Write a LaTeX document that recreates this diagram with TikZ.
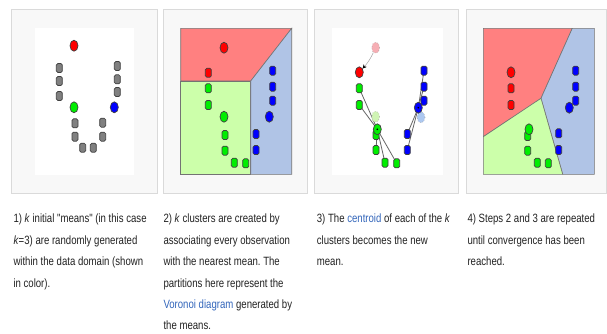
\documentclass[tikz,border=0pt]{standalone}
\usepackage{fontspec}
\newfontfamily\capfont[FakeStretch=0.8,Ligatures=TeXOff]{Liberation Sans}
\usetikzlibrary{shapes.geometric,arrows.meta}
\pgfdeclarelayer{bg}
\pgfdeclarelayer{lines}
\pgfsetlayers{bg,lines,main}
\frenchspacing
\definecolor{panelbg}{HTML}{F8F8F8}
\definecolor{panelborder}{HTML}{DADADA}
\definecolor{regred}{HTML}{FF8080}
\definecolor{reggreen}{HTML}{CCFFAA}
\definecolor{regblue}{HTML}{B0C4E6}
\definecolor{ptred}{HTML}{FF0000}
\definecolor{ptgreen}{HTML}{00EE00}
\definecolor{ptblue}{HTML}{0000FF}
\definecolor{ptgray}{HTML}{808080}
\definecolor{fadered}{HTML}{F6AEB4}
\definecolor{fadegreen}{HTML}{D0F4B4}
\definecolor{fadeblue}{HTML}{ADC8F0}
\definecolor{linkblue}{HTML}{3366BB}
\definecolor{txt}{HTML}{222222}
\newcommand{\wlink}[1]{\textcolor{linkblue}{#1}}
\tikzset{
  panel/.style={draw=panelborder, fill=panelbg, line width=1pt},
  mean/.style={ellipse, draw=black!75, line width=0.7pt, minimum width=8pt, minimum height=11pt, inner sep=0pt},
  obs/.style={rectangle, rounded corners=1.5pt, draw=black!75, line width=0.7pt, minimum width=6pt, minimum height=9pt, inner sep=0pt},
  ghost/.style={ellipse, draw=black!35, dotted, line width=0.6pt, minimum width=8pt, minimum height=11pt, inner sep=0pt},
  region/.style={draw=black!55, line width=0.6pt},
  assign/.style={draw=black!60, line width=0.8pt},
  captxt/.style={anchor=base west, inner sep=0pt, text=txt, font=\capfont\fontsize{12}{14}\selectfont}
}
\begin{document}
\begin{tikzpicture}[x=1pt,y=-1pt]
\useasboundingbox (0,0) rectangle (607,333);
\begin{pgfonlayer}{bg}
  \fill[white] (0,0) rectangle (607,333);
  \draw[panel] (11.5,9) rectangle (157,193);
  \draw[panel] (163,9) rectangle (307,193);
  \draw[panel] (314,9) rectangle (458,193);
  \draw[panel] (466,9) rectangle (606,193);
  \fill[white] (35,28) rectangle (134,175);
  \fill[white] (331.7,28) rectangle (443.3,175);
  % panel 2 regions
  \filldraw[region, fill=regred] (180.7,28.3) -- (291.7,28.3) -- (250.7,81) -- (180.7,81) -- cycle;
  \filldraw[region, fill=reggreen] (180.7,81) -- (250.7,81) -- (250.7,174.3) -- (180.7,174.3) -- cycle;
  \filldraw[region, fill=regblue] (291.7,28.3) -- (291.7,174.3) -- (250.7,174.3) -- (250.7,81) -- cycle;
  % panel 4 regions
  \filldraw[region, fill=regred] (483.3,28.3) -- (572.3,28.3) -- (541,98.3) -- (483.3,136.7) -- cycle;
  \filldraw[region, fill=regblue] (572.3,28.3) -- (594.3,28.3) -- (594.3,174.3) -- (562.7,174.3) -- (541,98.3) -- cycle;
  \filldraw[region, fill=reggreen] (483.3,136.7) -- (541,98.3) -- (562.7,174.3) -- (483.3,174.3) -- cycle;
\end{pgfonlayer}

% ---------- panel 1 ----------
\node[mean, fill=ptred] (a-r) at (74,45.7) {};
\node[obs, fill=ptgray] (a-1) at (59.3,68) {};
\node[obs, fill=ptgray] (a-2) at (59.3,81) {};
\node[obs, fill=ptgray] (a-3) at (59.3,96) {};
\node[obs, fill=ptgray] (a-4) at (117.3,66) {};
\node[obs, fill=ptgray] (a-5) at (117.3,79.3) {};
\node[obs, fill=ptgray] (a-6) at (117.3,92) {};
\node[mean, fill=ptgreen] (a-g) at (74,107.3) {};
\node[mean, fill=ptblue] (a-b) at (114.3,107.3) {};
\node[obs, fill=ptgray] (a-7) at (75,123.3) {};
\node[obs, fill=ptgray] (a-8) at (75,136.7) {};
\node[obs, fill=ptgray] (a-9) at (102.7,122.7) {};
\node[obs, fill=ptgray] (a-10) at (102.7,136.7) {};
\node[obs, fill=ptgray] (a-11) at (82.7,147.7) {};
\node[obs, fill=ptgray] (a-12) at (93.3,147.7) {};

% ---------- panel 2 ----------
\node[mean, fill=ptred] (b-r) at (224,47.7) {};
\node[obs, fill=ptred] (b-1) at (208.3,72.7) {};
\node[obs, fill=ptgreen] (b-2) at (208.3,88.3) {};
\node[obs, fill=ptgreen] (b-3) at (208.3,105) {};
\node[mean, fill=ptgreen] (b-g) at (224,116.7) {};
\node[obs, fill=ptgreen] (b-4) at (225,135) {};
\node[obs, fill=ptgreen] (b-5) at (225,150.7) {};
\node[obs, fill=ptgreen] (b-6) at (234.3,162.7) {};
\node[obs, fill=ptgreen] (b-7) at (245.7,163.3) {};
\node[obs, fill=ptblue] (b-8) at (272.7,70.7) {};
\node[obs, fill=ptblue] (b-9) at (272.7,86.7) {};
\node[obs, fill=ptblue] (b-10) at (272.7,100.7) {};
\node[mean, fill=ptblue] (b-b) at (269.3,116.7) {};
\node[obs, fill=ptblue] (b-11) at (256,134) {};
\node[obs, fill=ptblue] (b-12) at (256,150) {};

% ---------- panel 3 ----------
\node[ghost, fill=fadered] (c-or) at (375.7,47.7) {};
\node[mean, fill=ptred] (c-r) at (359.3,72.3) {};
\node[obs, fill=ptgreen] (c-2) at (359.3,88.3) {};
\node[obs, fill=ptgreen] (c-3) at (359.3,105) {};
\node[ghost, fill=fadegreen] (c-og) at (375.7,116.7) {};
\node[obs, fill=ptgreen] (c-4) at (376,135) {};
\node[obs, fill=ptgreen] (c-5) at (376,150) {};
\node[obs, fill=ptgreen] (c-6) at (385,162.7) {};
\node[obs, fill=ptgreen] (c-7) at (396.7,163.3) {};
\node[mean, fill=ptgreen] (c-g) at (377.3,129.3) {};
\node[obs, fill=ptblue] (c-8) at (424,70.7) {};
\node[obs, fill=ptblue] (c-9) at (424,86.7) {};
\node[obs, fill=ptblue] (c-10) at (424,100.7) {};
\node[ghost, fill=fadeblue] (c-ob) at (421,117.3) {};
\node[mean, fill=ptblue] (c-b) at (418.3,107.7) {};
\node[obs, fill=ptblue] (c-11) at (407.3,134) {};
\node[obs, fill=ptblue] (c-12) at (407.3,150) {};
\fill[black] (c-g.center) circle (0.9pt);
\fill[black] (c-b.center) circle (0.9pt);
\begin{pgfonlayer}{lines}
  \foreach \p in {c-2,c-3,c-4,c-5,c-6,c-7} \draw[assign] (c-g.center) -- (\p.center);
  \foreach \p in {c-8,c-9,c-10,c-11,c-12} \draw[assign] (c-b.center) -- (\p.center);
\end{pgfonlayer}
\draw[black!35, line width=0.5pt, -{Stealth[length=4pt,width=4pt,black]}] (c-or) to[bend left=8] (c-r);

% ---------- panel 4 ----------
\node[mean, fill=ptred] (d-r) at (511,72.3) {};
\node[obs, fill=ptred] (d-2) at (511,88.3) {};
\node[obs, fill=ptred] (d-3) at (511,105) {};
\node[obs, fill=ptgreen] (d-4) at (527.7,136) {};
\node[mean, fill=ptgreen] (d-g) at (529,129.3) {};
\node[obs, fill=ptgreen] (d-5) at (527.7,150.7) {};
\node[obs, fill=ptgreen] (d-6) at (537.3,162.7) {};
\node[obs, fill=ptgreen] (d-7) at (548.3,163.3) {};
\node[obs, fill=ptblue] (d-8) at (575.7,70.7) {};
\node[obs, fill=ptblue] (d-9) at (575.7,86.7) {};
\node[obs, fill=ptblue] (d-10) at (575.7,100.7) {};
\node[mean, fill=ptblue] (d-b) at (569.3,107.7) {};
\node[obs, fill=ptblue] (d-11) at (558.7,133.3) {};
\node[obs, fill=ptblue] (d-12) at (558.7,150) {};

% ---------- captions ----------
\node[captxt] (t1a) at (13.3,222.5) {1) \textit{k} initial "means" (in this case};
\node[captxt] (t1b) at (13.3,244) {\textit{k}=3) are randomly generated};
\node[captxt] (t1c) at (13.3,265.5) {within the data domain (shown};
\node[captxt] (t1d) at (13.3,287) {in color).};

\node[captxt] (t2a) at (163.3,222.5) {2) \textit{k} clusters are created by};
\node[captxt] (t2b) at (163.3,244) {associating every observation};
\node[captxt] (t2c) at (163.3,265.5) {with the nearest mean. The};
\node[captxt] (t2d) at (163.3,287) {partitions here represent the};
\node[captxt] (t2e) at (163.3,308.5) {\wlink{Voronoi diagram} generated by};
\node[captxt] (t2f) at (163.3,329.5) {the means.};

\node[captxt] (t3a) at (316.7,222.5) {3) The \wlink{centroid} of each of the \textit{k}};
\node[captxt] (t3b) at (316.7,244) {clusters becomes the new};
\node[captxt] (t3c) at (316.7,265.5) {mean.};

\node[captxt] (t4a) at (467.3,222.5) {4) Steps 2 and 3 are repeated};
\node[captxt] (t4b) at (467.3,244) {until convergence has been};
\node[captxt] (t4c) at (467.3,265.5) {reached.};
\end{tikzpicture}
\end{document}
